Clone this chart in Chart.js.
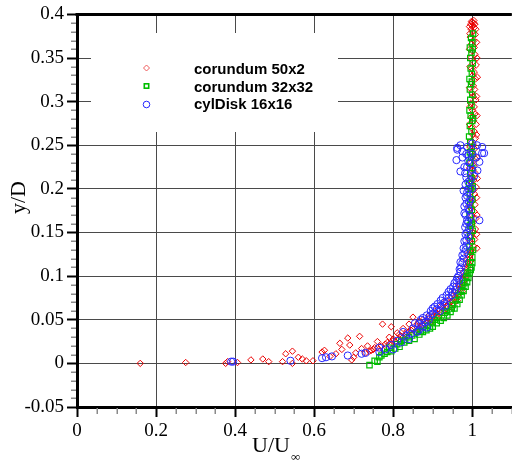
<!DOCTYPE html>
<html>
<head>
<meta charset="utf-8">
<script src="https://cdn.jsdelivr.net/npm/chart.js@4"></script>
<style>
  html, body { margin: 0; padding: 0; background: #fff; overflow: hidden; }
  #wrap { width: 512px; height: 461px; overflow: hidden; }
</style>
</head>
<body>
<div id="wrap"><canvas id="profileChart" width="517" height="461"></canvas></div>
<script>
// tick positions / labels
const xTicks = [0, 0.2, 0.4, 0.6, 0.8, 1.0];
const xTickLabels = ['0', '0.2', '0.4', '0.6', '0.8', '1'];
const yTicks = [-0.05, 0, 0.05, 0.1, 0.15, 0.2, 0.25, 0.3, 0.35, 0.4];
const yTickLabels = ['-0.05', '0', '0.05', '0.1', '0.15', '0.2', '0.25', '0.3', '0.35', '0.4'];

const seriesNames = ['corundum 50x2', 'corundum 32x32', 'cylDisk 16x16'];

// [U/Uinf, y/D]
const corundum50x2 = [
  [0.16,0.0],[0.275,0.001],[0.376,0.0],[0.381,0.002],[0.406,0.001],[0.44,0.004],
  [0.47,0.005],[0.485,0.002],[0.52,0.002],[0.528,0.011],[0.545,0.014],[0.545,0.0],
  [0.56,0.007],[0.57,0.005],[0.58,0.003],[0.597,0.003],[0.62,0.013],[0.626,0.015],
  [0.64,0.008],[0.655,0.011],[0.665,0.023],[0.67,0.016],[0.685,0.029],[0.69,0.021],
  [0.695,0.004],[0.70,0.007],[0.705,0.012],[0.715,0.031],[0.72,0.017],[0.735,0.02],
  [0.745,0.015],[0.753,0.018],[0.76,0.025],[0.773,0.045],[0.78,0.022],[0.79,0.03],
  [0.795,0.042],[0.80,0.026],[0.81,0.035],[0.815,0.028],[0.825,0.04],[0.83,0.033],
  [0.84,0.045],[0.85,0.053],[0.845,0.038],[0.86,0.042],[0.865,0.048],[0.875,0.05],
  [0.88,0.045],[0.89,0.055],[0.895,0.05],[0.905,0.06],[0.91,0.055],[0.92,0.065],
  [0.925,0.06],[0.93,0.07],[0.935,0.066],[0.945,0.075],[0.95,0.072],[0.955,0.082],
  [0.96,0.08],[0.965,0.09],[0.968,0.086],[0.972,0.098],[0.975,0.095],[0.978,0.105],
  [0.982,0.11],[0.985,0.118],[0.988,0.125],
  [0.73,0.012],[0.75,0.016],[0.77,0.02],[0.785,0.024],[0.80,0.028],[0.82,0.031],
  [0.835,0.035],[0.85,0.039],[0.86,0.045],[0.87,0.041],[0.88,0.048],[0.89,0.052],
  [0.90,0.049],[0.91,0.058],[0.915,0.054],[0.925,0.063],[0.94,0.068],[0.948,0.064],
  [0.958,0.076],[0.962,0.072],[0.97,0.085],[0.975,0.082],[0.98,0.095],[0.985,0.1],
  [0.988,0.108],[0.99,0.115],[0.992,0.122],[0.996,0.127],
  [0.74,0.014],[0.76,0.018],[0.775,0.015],[0.79,0.022],[0.805,0.025],[0.815,0.033],
  [0.825,0.03],[0.84,0.037],[0.855,0.036],[0.865,0.04],[0.875,0.044],[0.885,0.046],
  [0.895,0.047],[0.90,0.053],[0.912,0.052],[0.92,0.058],[0.93,0.061],[0.938,0.064],
  [0.945,0.07],[0.952,0.068],[0.957,0.074],[0.965,0.079],[0.97,0.09],[0.973,0.088],
  [0.978,0.092],[0.982,0.1],[0.986,0.104],[0.989,0.112],[0.991,0.118],[0.994,0.124],
  [1.0,0.128],[0.998,0.118],
  [0.995,0.130],[1.004,0.134],[0.998,0.138],[1.006,0.142],[0.996,0.146],[1.002,0.150],
  [1.008,0.154],[0.997,0.158],[1.003,0.162],[1.009,0.166],[0.999,0.170],[1.005,0.174],
  [0.996,0.178],[1.007,0.182],[1.001,0.186],[0.997,0.190],[1.006,0.194],[1.002,0.198],
  [1.010,0.202],[0.998,0.206],[1.004,0.210],[0.995,0.214],[1.008,0.218],[1.001,0.222],
  [1.005,0.226],[0.997,0.230],[1.009,0.234],[1.002,0.238],[0.998,0.242],[1.006,0.246],
  [1.003,0.250],[0.996,0.254],[1.008,0.258],[1.001,0.262],[1.005,0.266],[0.998,0.270],
  [1.010,0.274],[1.003,0.278],[0.997,0.282],[1.007,0.286],[1.001,0.290],[1.005,0.294],
  [0.996,0.298],[1.009,0.302],[1.002,0.306],[0.999,0.310],[1.006,0.314],[1.003,0.318],
  [0.997,0.322],[1.008,0.326],[1.001,0.330],[1.005,0.334],[0.998,0.338],[1.010,0.342],
  [1.003,0.346],[0.996,0.350],[1.007,0.354],[1.001,0.358],[1.005,0.362],[0.998,0.366],
  [1.004,0.370],[0.995,0.374],[1.008,0.377],[1.001,0.380],[0.997,0.383],[1.005,0.385],
  [1.000,0.387],[0.996,0.389],[1.003,0.390],[1.000,0.391],
  [1.012,0.132],[0.993,0.141],[1.011,0.148],[0.994,0.156],[1.012,0.170],[0.993,0.180],
  [1.011,0.190],[0.994,0.200],[1.013,0.212],[0.993,0.224],[1.012,0.236],[0.994,0.248],
  [1.011,0.262],[0.993,0.274],[1.012,0.284],[0.994,0.294],[1.011,0.306],[0.993,0.316],
  [1.013,0.328],[0.994,0.340],[1.012,0.350],[0.993,0.360],[1.011,0.368],[0.994,0.378],
  [1.009,0.383],[0.993,0.386],[1.007,0.389],[0.998,0.392],[1.004,0.393]
];

const corundum32x32 = [
  [0.740,-0.002],[0.753,0.003],[0.765,0.007],[0.778,0.011],[0.79,0.018],[0.795,0.014],
  [0.805,0.017],[0.816,0.019],[0.82,0.026],[0.828,0.024],[0.84,0.026],[0.84,0.03],
  [0.854,0.028],[0.86,0.036],[0.866,0.033],[0.875,0.036],[0.884,0.038],[0.893,0.040],
  [0.900,0.042],[0.90,0.047],[0.910,0.046],[0.920,0.049],[0.928,0.052],[0.93,0.058],
  [0.937,0.055],[0.945,0.059],[0.95,0.067],[0.955,0.063],[0.962,0.068],[0.965,0.078],
  [0.968,0.073],[0.973,0.078],[0.975,0.09],[0.978,0.083],[0.983,0.088],[0.985,0.10],
  [0.987,0.093],[0.990,0.098],[0.993,0.103],[0.996,0.107],
  [0.76,0.002],[0.77,0.009],[0.785,0.013],[0.81,0.022],[0.83,0.027],[0.848,0.032],
  [0.87,0.037],[0.888,0.043],[0.905,0.05],[0.915,0.053],[0.935,0.06],[0.948,0.063],
  [0.958,0.072],[0.97,0.082],[0.98,0.092],[0.988,0.104],
  [0.998,0.110],[1.000,0.115],[0.994,0.116],[1.000,0.122],[0.996,0.128],[1.002,0.130],
  [0.993,0.134],[0.999,0.140],[0.995,0.146],[1.001,0.152],[0.994,0.158],[0.999,0.160],
  [0.997,0.164],[0.993,0.170],[0.999,0.176],[0.995,0.182],[1.000,0.188],[0.994,0.194],
  [0.997,0.200],[1.001,0.203],[0.992,0.206],[0.998,0.212],[0.995,0.218],[1.000,0.224],
  [0.993,0.230],[0.997,0.236],[1.000,0.240],[0.994,0.242],[0.999,0.248],[0.995,0.254],
  [0.992,0.260],[0.998,0.266],[0.994,0.272],[1.000,0.278],[1.002,0.281],[0.996,0.284],
  [0.993,0.290],[0.998,0.296],[0.995,0.302],[1.000,0.308],[0.994,0.314],[0.997,0.320],
  [0.999,0.323],[0.993,0.326],[0.999,0.332],[0.996,0.338],[1.001,0.344],[0.995,0.350],
  [0.998,0.356],[1.001,0.360],[0.994,0.362],[1.000,0.368],[0.997,0.373],[1.002,0.378]
];

const cylDisk16x16 = [
  [0.39,0.002],[0.395,0.002],[0.54,0.003],[0.62,0.006],[0.63,0.007],[0.645,0.008],
  [0.685,0.009],[0.72,0.011],[0.73,0.012],[0.765,0.013],[0.765,0.018],[0.78,0.016],
  [0.80,0.016],[0.795,0.021],[0.81,0.026],[0.82,0.024],[0.833,0.032],[0.84,0.028],
  [0.85,0.04],[0.86,0.036],[0.865,0.045],[0.87,0.05],[0.875,0.042],[0.885,0.041],
  [0.885,0.055],[0.89,0.05],[0.895,0.06],[0.90,0.057],[0.905,0.065],[0.91,0.062],
  [0.92,0.066],[0.92,0.072],[0.93,0.07],[0.935,0.078],[0.94,0.075],[0.945,0.085],
  [0.95,0.082],[0.955,0.092],[0.96,0.088],[0.962,0.098],[0.967,0.095],[0.97,0.105],
  [0.972,0.11],[0.975,0.115],[0.978,0.12],[0.98,0.126],[0.983,0.13],[0.985,0.135],
  [0.985,0.141],[0.99,0.145],[0.987,0.15],[0.992,0.155],[0.985,0.16],[0.987,0.164],
  [0.995,0.168],[0.98,0.172],[1.018,0.164],[0.99,0.178],[0.985,0.183],[0.995,0.188],
  [0.987,0.192],[0.987,0.196],[1.0,0.2],[0.983,0.205],[0.99,0.208],[0.985,0.213],
  [1.005,0.215],[1.013,0.221],[0.98,0.225],[0.987,0.225],[0.995,0.229],[1.018,0.231],
  [0.96,0.233],[0.975,0.236],[0.99,0.238],[1.0,0.24],[1.025,0.241],[0.962,0.245],
  [0.987,0.248],[1.025,0.248],[1.03,0.241],[0.97,0.25],[0.962,0.247],[1.0,0.252],
  [0.825,0.036],[0.845,0.034],[0.855,0.046],[0.865,0.038],[0.875,0.052],[0.88,0.047],
  [0.893,0.054],[0.9,0.063],[0.912,0.068],[0.918,0.06],[0.925,0.075],[0.932,0.066],
  [0.94,0.082],[0.948,0.078],[0.952,0.088],[0.958,0.084],[0.96,0.095],[0.965,0.1],
  [0.968,0.108],[0.97,0.116],[0.975,0.124],[0.978,0.132],[0.98,0.14],[0.983,0.148],
  [0.982,0.156],[0.99,0.162],[0.983,0.17],[0.992,0.175],[0.98,0.18],[0.992,0.185],
  [0.983,0.19],[0.99,0.2],[0.978,0.198],[0.995,0.21],[0.982,0.218],[0.97,0.22],
  [1.0,0.222],[0.99,0.232],[0.985,0.24],[1.01,0.236],[0.975,0.243],[1.012,0.25]
];

const colors = ['rgb(235,0,0)', 'rgb(0,190,0)', 'rgb(40,40,255)'];

const toXY = arr => arr.map(p => ({ x: p[0], y: p[1] }));

const serif = 'Liberation Serif, Times New Roman, serif';

// white legend box, markers, frame, minor ticks and axis titles
const decor = {
  id: 'decor',
  beforeDatasetsDraw(chart) {
    const ctx = chart.ctx;
    ctx.save();
    ctx.fillStyle = '#fff';
    ctx.fillRect(91, 33, 247, 99);

    const rows = [68, 86, 104.5];
    ctx.lineWidth = 1;
    // diamond
    ctx.strokeStyle = 'rgb(240,90,90)';
    ctx.beginPath();
    ctx.moveTo(146.5, rows[0] - 3); ctx.lineTo(149.5, rows[0]);
    ctx.lineTo(146.5, rows[0] + 3); ctx.lineTo(143.5, rows[0]); ctx.closePath();
    ctx.stroke();
    // square
    ctx.strokeStyle = colors[1];
    ctx.lineWidth = 1.6;
    ctx.strokeRect(144.3, rows[1] - 2.2, 4.4, 4.4);
    // circle
    ctx.strokeStyle = colors[2];
    ctx.lineWidth = 1;
    ctx.beginPath();
    ctx.arc(146.5, rows[2], 3.3, 0, Math.PI * 2);
    ctx.stroke();

    ctx.fillStyle = '#000';
    ctx.font = 'bold 15px Liberation Sans, Arial, sans-serif';
    ctx.textAlign = 'left';
    ctx.textBaseline = 'alphabetic';
    const base = [74, 91.5, 109];
    chart.data.datasets.forEach((ds, i) => ctx.fillText(ds.label, 194, base[i]));
    ctx.restore();
  },
  afterDraw(chart) {
    const ctx = chart.ctx;
    const a = chart.chartArea;
    const xs = chart.scales.x, ys = chart.scales.y;
    ctx.save();
    // top frame
    ctx.strokeStyle = '#000';
    ctx.lineWidth = 3;
    ctx.beginPath();
    ctx.moveTo(a.left - 1.5, a.top);
    ctx.lineTo(a.right, a.top);
    ctx.stroke();

    // minor ticks
    ctx.strokeStyle = '#8a8a8a';
    ctx.lineWidth = 1.5;
    ctx.beginPath();
    for (let i = 0; i <= 45; i++) {
      if (i % 5 === 0) continue;
      const py = Math.round(ys.getPixelForValue(-0.05 + i * 0.01)) + 0.25;
      ctx.moveTo(a.left - 6, py);
      ctx.lineTo(a.left - 1, py);
    }
    for (let i = 0; i <= 22; i++) {
      if (i % 4 === 0) continue;
      const px = Math.round(xs.getPixelForValue(i * 0.05)) + 0.25;
      ctx.moveTo(px, a.bottom + 1);
      ctx.lineTo(px, a.bottom + 7);
    }
    ctx.stroke();

    // axis titles
    ctx.fillStyle = '#000';
    ctx.font = '22px ' + serif;
    ctx.textBaseline = 'alphabetic';
    ctx.textAlign = 'left';
    ctx.fillText('U/U', 252, 452);
    const w = ctx.measureText('U/U').width;
    ctx.font = '13px ' + serif;
    ctx.fillText('\u221E', 252 + w + 1, 461);

    ctx.translate(25, 197.5);
    ctx.rotate(-Math.PI / 2);
    ctx.font = '22px ' + serif;
    ctx.textAlign = 'center';
    ctx.fillText('y/D', 0, 0);
    ctx.restore();
  }
};

const axisCommon = {
  type: 'linear',
  grid: {
    color: '#4a4a4a',
    lineWidth: 1,
    tickColor: '#000',
    tickWidth: 2,
    tickLength: 10
  },
  border: { color: '#000', width: 3 }
};

new Chart(document.getElementById('profileChart').getContext('2d'), {
  type: 'scatter',
  data: {
    datasets: [
      {
        label: seriesNames[0],
        data: toXY(corundum50x2),
        pointStyle: 'rectRot',
        pointRadius: 3.2,
        borderColor: colors[0],
        backgroundColor: 'rgba(0,0,0,0)',
        borderWidth: 1,
        order: 3
      },
      {
        label: seriesNames[1],
        data: toXY(corundum32x32),
        pointStyle: 'rect',
        pointRadius: 3.8,
        borderColor: colors[1],
        backgroundColor: 'rgba(0,0,0,0)',
        borderWidth: 1.2,
        order: 2
      },
      {
        label: seriesNames[2],
        data: toXY(cylDisk16x16),
        pointStyle: 'circle',
        pointRadius: 3.6,
        borderColor: colors[2],
        backgroundColor: 'rgba(0,0,0,0)',
        borderWidth: 1,
        order: 1
      }
    ]
  },
  options: {
    responsive: false,
    animation: false,
    devicePixelRatio: 1,
    layout: { padding: { top: 14, right: 0, left: 0, bottom: 0 } },
    plugins: { legend: { display: false }, tooltip: { enabled: false } },
    scales: {
      x: {
        ...axisCommon,
        min: 0,
        max: 1.1,
        afterBuildTicks: s => { s.ticks = xTicks.map(v => ({ value: v })); },
        afterFit: s => { s.height = 54; },
        ticks: {
          color: '#000',
          font: { family: serif, size: 19 },
          padding: 3,
          maxRotation: 0,
          autoSkip: false,
          callback: (v, i) => xTickLabels[i]
        }
      },
      y: {
        ...axisCommon,
        min: -0.05,
        max: 0.4,
        afterBuildTicks: s => { s.ticks = yTicks.map(v => ({ value: v })); },
        afterFit: s => { s.width = 77; },
        ticks: {
          color: '#000',
          font: { family: serif, size: 19 },
          padding: 3,
          autoSkip: false,
          callback: (v, i) => yTickLabels[i]
        }
      }
    }
  },
  plugins: [decor]
});
</script>
</body>
</html>
